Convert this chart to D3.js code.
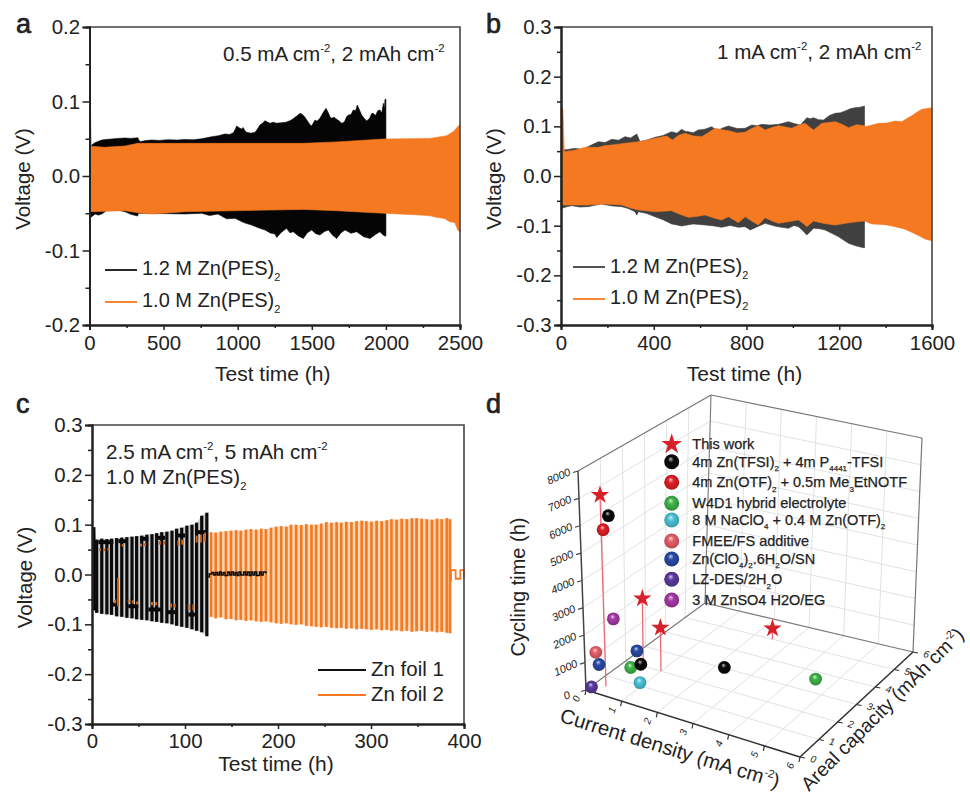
<!DOCTYPE html>
<html>
<head>
<meta charset="utf-8">
<style>
  body { margin: 0; background: #fff; }
  text { font-family: "Liberation Sans", Arial, sans-serif; fill: #222; }
</style>
<script src="https://cdn.jsdelivr.net/npm/d3@7"></script>
</head>
<body>
<script>
// panel a envelopes, [time h, voltage V]
var a12Up = [[2,.041],[15,.0416],[37,.0447],[60,.0465],[82,.0483],[110,.049],[150,.0497],[190,.0505],[240,.051],[280,.0505],[325,.0514],[341,.046],[380,.0475],[420,.0483],[470,.0478],[530,.0487],[590,.0482],[644,.049],[700,.0486],[757,.05],[790,.0512],[825,.0528],[870,.054],[914,.0564],[945,.0558],[970,.058],[983,.0625],[993,.067],[1005,.0655],[1015,.064],[1026,.0632],[1037,.065],[1048,.061],[1060,.0586],[1090,.0575],[1117,.0586],[1130,.062],[1150,.0685],[1165,.0705],[1184,.0742],[1200,.0725],[1218,.0707],[1240,.0722],[1262,.0708],[1297,.0716],[1325,.0722],[1353,.0743],[1370,.0762],[1387,.0787],[1405,.0815],[1420,.0841],[1437,.0825],[1454,.0787],[1470,.074],[1485,.0695],[1499,.0671],[1510,.071],[1522,.0752],[1535,.0735],[1555,.0774],[1570,.083],[1584,.0875],[1596,.0908],[1610,.0855],[1622,.08],[1634,.0774],[1650,.079],[1668,.0761],[1685,.0738],[1702,.0707],[1720,.0725],[1735,.0795],[1747,.0819],[1765,.0825],[1780,.0886],[1795,.0875],[1807,.0953],[1822,.0885],[1836,.0819],[1853,.0775],[1870,.0738],[1890,.0775],[1903,.0835],[1915,.0841],[1930,.0812],[1945,.0875],[1960,.0886],[1972,.0845],[1983,.0975],[1990,.0905],[1994,.103],[2000,.103]];
var a12Low = [[2,-.056],[15,-.0546],[37,-.0511],[60,-.0525],[82,-.0511],[115,-.0465],[150,-.0436],[190,-.0455],[240,-.048],[280,-.0515],[325,-.0537],[330,-.05],[644,-.0509],[757,-.05],[810,-.053],[867,-.0511],[925,-.0575],[982,-.0568],[1040,-.0625],[1094,-.0658],[1140,-.0695],[1184,-.0725],[1220,-.0765],[1252,-.0779],[1263,-.0825],[1295,-.0755],[1330,-.0703],[1352,-.0762],[1375,-.0748],[1410,-.0805],[1443,-.0838],[1470,-.0762],[1499,-.0725],[1527,-.0775],[1555,-.0792],[1585,-.0745],[1612,-.0725],[1640,-.0795],[1668,-.0838],[1696,-.0765],[1724,-.0725],[1765,-.0768],[1803,-.0748],[1850,-.0815],[1893,-.0838],[1930,-.0785],[1960,-.0748],[1980,-.079],[1994,-.0806],[2000,-.0806]];
var a10Up = [[0,.108],[6,.1],[12,.04],[100,.0385],[240,.0403],[325,.0438],[1218,.0438],[1443,.0438],[1668,.0458],[1983,.0496],[2297,.0505],[2410,.0541],[2455,.0596],[2495,.0685],[2500,.07]];
var a10Low = [[0,-.048],[240,-.0466],[325,-.0493],[420,-.0511],[644,-.048],[1218,-.0457],[1443,-.0448],[1668,-.0466],[1983,-.05],[2230,-.0523],[2300,-.0535],[2340,-.0555],[2395,-.057],[2430,-.0613],[2465,-.0625],[2485,-.0725],[2500,-.075]];

// panel b envelopes
var b12Up = [[0,.05],[3,.0523],[30,.0535],[60,.0557],[85,.054],[103,.0557],[135,.0632],[161,.0691],[190,.0672],[219,.0738],[248,.0722],[276,.0792],[300,.0765],[327,.0845],[341,.0691],[372,.0725],[405,.0778],[440,.0815],[477,.0893],[500,.0862],[520,.0939],[535,.09],[549,.0893],[570,.0872],[592,.0926],[620,.0942],[650,.0993],[665,.094],[679,.0926],[700,.0972],[722,.1006],[760,.0955],[794,.096],[823,.1027],[845,.1012],[866,.104],[900,.1025],[938,.104],[960,.1065],[981,.1094],[1005,.1058],[1031,.1027],[1045,.109],[1060,.1174],[1075,.1152],[1089,.1174],[1110,.1135],[1132,.1127],[1158,.122],[1182,.1262],[1205,.1272],[1225,.1309],[1248,.1355],[1268,.1375],[1290,.1385],[1309,.1409]];
var b12Low = [[0,-.068],[3,-.0651],[25,-.062],[46,-.0597],[80,-.0625],[118,-.0617],[145,-.059],[175,-.0564],[220,-.0602],[262,-.0617],[290,-.0655],[319,-.0718],[327,-.0785],[334,-.0718],[370,-.0755],[405,-.0819],[440,-.088],[477,-.0966],[500,-.0985],[520,-.1007],[570,-.0965],[621,-.0986],[660,-.1005],[693,-.1033],[730,-.0995],[765,-.1033],[794,-.102],[816,-.1087],[845,-.1025],[880,-.0953],[930,-.1018],[981,-.1053],[1005,-.0995],[1024,-.102],[1042,-.1095],[1060,-.1188],[1075,-.112],[1089,-.1053],[1115,-.1062],[1139,-.1087],[1170,-.116],[1197,-.1221],[1220,-.1295],[1240,-.1355],[1270,-.1405],[1304,-.1443],[1309,-.1443]];
var b10Up = [[0,.138],[8,.135],[14,.049],[60,.052],[103,.0577],[161,.0577],[190,.0612],[219,.0624],[276,.0658],[334,.0691],[370,.072],[405,.0758],[456,.0805],[480,.0725],[508,.082],[535,.0859],[571,.0805],[607,.0792],[635,.0872],[664,.096],[690,.0935],[722,.0912],[760,.0865],[794,.0879],[822,.0955],[851,.1013],[880,.0926],[910,.0975],[938,.1013],[995,.096],[1025,.1025],[1053,.106],[1072,.0985],[1089,.0926],[1107,.0992],[1125,.106],[1182,.1094],[1212,.104],[1240,.0973],[1275,.1032],[1309,.1013],[1314,.0993],[1369,.106],[1405,.1065],[1441,.1107],[1470,.1094],[1490,.1155],[1513,.1214],[1535,.1285],[1556,.1342],[1580,.136],[1599,.1375]];
var b10Low = [[0,-.0584],[118,-.0584],[190,-.0564],[262,-.0584],[300,-.0645],[334,-.0684],[370,-.07],[405,-.0718],[477,-.0698],[515,-.0775],[549,-.0832],[585,-.0815],[621,-.0785],[660,-.0845],[693,-.0886],[722,-.0819],[745,-.088],[765,-.0939],[794,-.0819],[825,-.0915],[851,-.0986],[880,-.0839],[910,-.0905],[938,-.0953],[1024,-.0886],[1045,-.0955],[1060,-.102],[1089,-.0906],[1135,-.0955],[1182,-.0986],[1254,-.0933],[1309,-.0906],[1340,-.0965],[1369,-.0973],[1405,-.0985],[1441,-.102],[1480,-.1065],[1513,-.1134],[1540,-.1195],[1570,-.1268],[1599,-.1302]];

// panel c cycling, per cycle
var c1Time = [2,5,10.5,16,21,26.5,32,37.5,43,48,53.5,59,64.5,69.5,75,80.5,86,91,96.5,102,107.5,112.5,118,123.5];
var c1Up = [.095,.07,.072,.071,.072,.073,.074,.075,.076,.077,.078,.08,.081,.083,.085,.086,.088,.092,.094,.098,.1,.104,.118,.124];
var c1Low = [-.072,-.077,-.079,-.08,-.081,-.084,-.085,-.087,-.088,-.09,-.091,-.092,-.094,-.095,-.097,-.098,-.1,-.103,-.105,-.107,-.11,-.113,-.116,-.124];
var c1Plateau = [[6.8,23,.0649],[28.3,37.3,.0669],[51.6,60.6,.0716],[69.5,78.5,.0736],[91,100,.0783],[110.7,123.3,.085],[19.3,26.5,-.0602],[39,49.8,-.0636],[60.6,75,-.0703],[80.3,89.2,-.0756],[103.5,110.7,-.0803],[1.4,5,-.0669]];
var c1TailT = [125,126,129,131,133,135,137,139,141,143,146,148,150,152,154,156,158,160,163,165,167,169,171,173,175,177,180,182,184,187];
var c1TailV = [-.005,.001,.004,-.001,.004,-.001,.005,-.001,.004,-.002,.005,-.001,.005,-.001,.004,-.002,.005,-.001,.005,-.001,.005,-.002,.005,-.001,.005,-.002,.005,-.001,.005,.002];
var c2Patch = [[8.6,.047,.052],[13,.047,.052],[17.6,.048,.053],[33,.056,.061],[52.7,.056,.062],[57,.057,.063],[73,.06,.067],[77.4,.06,.067],[92.8,.058,.068],[97,.06,.07],[112.5,.064,.078],[117,.064,.08],[121.5,.066,.084],[28,-.0636,-.0067],[25,-.058,-.05],[39.5,-.056,-.05],[44,-.058,-.052],[48.5,-.06,-.054],[64.5,-.062,-.055],[69,-.062,-.055],[85,-.066,-.058],[89,-.066,-.059],[104,-.072,-.06],[109,-.072,-.06]];
var c2Time = [128,133,138.5,144,149.5,155,160,165.5,171,176.5,182,187,192.5,198,203.5,209,214,219.5,225,230.5,236,241,246.5,252,257.5,263,268,273.5,279,284.5,290,295,300.5,306,311.5,317,322,327.5,333,338.5,344,349,354.5,360,365.5,371,376,381.5,385];
var c2Up = [.085,.084,.086,.087,.088,.089,.088,.09,.091,.09,.092,.091,.094,.096,.097,.096,.1,.1,.099,.101,.1,.1,.102,.105,.104,.105,.104,.106,.105,.107,.108,.107,.106,.108,.107,.109,.111,.11,.112,.111,.113,.113,.112,.111,.11,.112,.111,.113,.111];
var c2Low = [-.085,-.088,-.086,-.09,-.089,-.092,-.091,-.093,-.092,-.094,-.095,-.094,-.096,-.098,-.099,-.098,-.1,-.101,-.1,-.103,-.104,-.105,-.106,-.105,-.107,-.108,-.107,-.109,-.108,-.11,-.109,-.11,-.111,-.11,-.112,-.111,-.113,-.112,-.114,-.113,-.115,-.114,-.113,-.115,-.114,-.116,-.115,-.117,-.118];
var c2TailT = [385.6,386,391,396,400];
var c2TailV = [-.012,.0086,-.0085,.0086,-.0085];

// panel d
var dCurrentTicks = [0,1,2,3,4,5,6];
var dArealTicks = [0,1,2,3,4,5,6];
var dCycleTicks = [0,1000,2000,3000,4000,5000,6000,7000,8000];
var starCurrent = [0.3,0.5,1,2.5];
var starAreal = [0.47,2,2,5];
var starCycle = [7000,2500,1600,400];
var seriesLabels = [
  [["4m Zn(TFSI)"],["2","sub"],[" + 4m P"],["4441","sub"],["-TFSI"]],
  [["4m Zn(OTF)"],["2","sub"],[" + 0.5m Me"],["3","sub"],["EtNOTF"]],
  [["W4D1 hybrid electrolyte"]],
  [["8 M NaClO"],["4","sub"],[" + 0.4 M Zn(OTF)"],["2","sub"]],
  [["FMEE/FS additive"]],
  [["Zn(ClO"],["4","sub"],[")"],["2","sub"],[".6H"],["2","sub"],["O/SN"]],
  [["LZ-DES/2H"],["2","sub"],["O"]],
  [["3 M ZnSO4 H2O/EG"]]
];
var seriesColors = ["#0a0a0a","#e01f26","#3fb54a","#4cc4d8","#e8606a","#2a4aa8","#5a3aa0","#a83aa8"];
var pointSeries = [7,4,5,6,5,2,0,3,0,2,0,1];
var pointCurrent = [.55,.2,.25,.1,.9,1,1,1.25,2.8,5,.5,.4];
var pointAreal = [.5,.2,.25,.1,1,.5,1,.5,2,2.7,.5,.4];
var pointCycle = [2550,1350,900,100,1250,950,800,500,800,750,6300,5800];

var orange = "#f47920";

var svg = d3.select("body").append("svg").attr("width",970).attr("height",796);
svg.append("rect").attr("width",970).attr("height",796).attr("fill","#fff");

// text with sub and superscripts
function richText(parent, x, y, size, parts){
  var t = parent.append("text").attr("x",x).attr("y",y).attr("font-size",size+"px");
  var shift = 0;
  parts.forEach(function(p){
    var target = p[1]=="sub" ? size*.3 : p[1]=="sup" ? -size*.42 : 0;
    t.append("tspan")
      .attr("dy",target-shift)
      .attr("font-size",(p[1] ? size*.55 : size)+"px")
      .text(p[0]);
    shift = target;
  });
  return t;
}

function panelAxes(box, xMax, xTicks, xMinor, yMax, yTicks, yMinor, labelY, titleY){
  var x = d3.scaleLinear().domain([0,xMax]).range([box.left,box.right]);
  var y = d3.scaleLinear().domain([-yMax,yMax]).range([box.bottom,box.top]);
  var g = svg.append("g");
  g.append("path").attr("d","M"+box.left+","+box.top+"H"+box.right+"V"+box.bottom)
    .attr("fill","none").attr("stroke","#444").attr("stroke-width",1.6);

  g.append("g").attr("transform","translate(0,"+box.bottom+")")
    .call(d3.axisBottom(x).tickValues(xTicks).tickSize(5).tickPadding(labelY-box.bottom-19.4).tickFormat(d3.format("d")));
  g.append("g").attr("transform","translate(0,"+box.bottom+")")
    .call(d3.axisBottom(x).tickValues(xMinor).tickSize(3).tickFormat(""));
  g.append("g").attr("transform","translate("+box.left+",0)")
    .call(d3.axisLeft(y).tickValues(yTicks).tickSize(7).tickPadding(2.5).tickFormat(function(d){return d.toFixed(1)}));
  g.append("g").attr("transform","translate("+box.left+",0)")
    .call(d3.axisLeft(y).tickValues(yMinor).tickSize(4).tickFormat(""));

  g.selectAll(".domain").attr("stroke","#222").attr("stroke-width",2);
  g.selectAll(".tick line").attr("stroke","#222").attr("stroke-width",1.5);
  g.selectAll(".tick text").attr("font-size","20.4px").attr("font-family","Liberation Sans").attr("fill","#222");

  g.append("text").attr("x",(box.left+box.right)/2-2).attr("y",titleY)
    .attr("text-anchor","middle").attr("font-size","21px").text("Test time (h)");
  g.append("text").attr("transform","translate("+(box.left-60)+","+((box.top+box.bottom)/2+3)+") rotate(-90)")
    .attr("text-anchor","middle").attr("font-size","20.5px").text("Voltage (V)");
  return {x:x,y:y};
}

function envelope(g, scales, data, color){
  var area = d3.area()
    .x(function(d){return scales.x(d[0])})
    .y0(scales.y(0))
    .y1(function(d){return scales.y(d[1])});
  g.append("path").attr("d",area(data)).attr("fill",color).attr("stroke",color).attr("stroke-width",.6);
}

function legend(x1, x2, yy, color, width, textX, textY, parts, size){
  svg.append("line").attr("x1",x1).attr("x2",x2).attr("y1",yy).attr("y2",yy)
    .attr("stroke",color).attr("stroke-width",width);
  richText(svg, textX, textY, size, parts);
}

function panelLetter(x,y,s){
  svg.append("text").attr("x",x).attr("y",y).attr("font-size","27px").attr("stroke","#222").attr("stroke-width",.7).text(s);
}

// ---------- a
var boxA = {left:89.5,right:460,top:27,bottom:325};
var marksA = svg.append("g");
var sa = panelAxes(boxA,2500,[0,500,1000,1500,2000,2500],[250,750,1250,1750,2250],.2,[-.2,-.1,0,.1,.2],[-.15,-.05,.05,.15],350,381);
envelope(marksA,sa,a12Up,"#050505");
envelope(marksA,sa,a12Low,"#050505");
envelope(marksA,sa,a10Up,orange);
envelope(marksA,sa,a10Low,orange);
legend(105,137,270,"#111",1.8,142,275,[["1.2 M Zn(PES)"],["2","sub"]],20);
legend(105,137,302,orange,1.8,142,307,[["1.0 M Zn(PES)"],["2","sub"]],20);
richText(svg,223,61,20.6,[["0.5 mA cm"],["-2","sup"],[", 2 mAh cm"],["-2","sup"]]);
panelLetter(16,33,"a");

// ---------- b
var boxB = {left:561,right:932,top:27,bottom:325};
var marksB = svg.append("g");
var sb = panelAxes(boxB,1600,[0,400,800,1200,1600],[200,600,1000,1400],.3,[-.3,-.2,-.1,0,.1,.2,.3],[-.25,-.15,-.05,.05,.15,.25],350,381);
envelope(marksB,sb,b12Up,"#404040");
envelope(marksB,sb,b12Low,"#404040");
envelope(marksB,sb,b10Up,orange);
envelope(marksB,sb,b10Low,orange);
legend(573,605,267,"#404040",1.8,610,273,[["1.2 M Zn(PES)"],["2","sub"]],20);
legend(573,605,299,orange,1.8,610,304,[["1.0 M Zn(PES)"],["2","sub"]],20);
richText(svg,717,59,20.6,[["1 mA cm"],["-2","sup"],[", 2 mAh cm"],["-2","sup"]]);
panelLetter(486,33,"b");

// ---------- c
var boxC = {left:92,right:464,top:425,bottom:724};
var marksC = svg.append("g");
var sc = panelAxes(boxC,400,[0,100,200,300,400],[50,150,250,350],.3,[-.3,-.2,-.1,0,.1,.2,.3],[-.25,-.15,-.05,.05,.15,.25],748,771);

var stepLine = d3.line()
  .x(function(d){return sc.x(d[0])})
  .y(function(d){return sc.y(d[1])})
  .curve(d3.curveStepAfter);

// the blurred gaps between cycles read as a pale band
var bandArea = d3.area()
  .x(function(d){return sc.x(d)});
function band(times, up, low, color){
  marksC.append("path").attr("d",bandArea
    .y0(function(d,i){return sc.y(low[i])})
    .y1(function(d,i){return sc.y(up[i])})(times)).attr("fill",color);
}
band(c2Time,c2Up,c2Low,"#fbd8b8");
band(c1Time,c1Up,c1Low,"#cfcfcf");

// orange foil 2: one bar per cycle
marksC.selectAll("line.foil2").data(c2Time).enter().append("line").attr("class","foil2")
  .attr("x1",function(d){return sc.x(d)}).attr("x2",function(d){return sc.x(d)})
  .attr("y1",function(d,i){return sc.y(c2Up[i])}).attr("y2",function(d,i){return sc.y(c2Low[i])})
  .attr("stroke",orange).attr("stroke-width",2.7);
marksC.append("path").attr("d",stepLine(c2TailT.map(function(t,i){return [t,c2TailV[i]]})))
  .attr("fill","none").attr("stroke",orange).attr("stroke-width",1.8);

// black foil 1 bars
marksC.selectAll("line.foil1").data(c1Time).enter().append("line").attr("class","foil1")
  .attr("x1",function(d){return sc.x(d)}).attr("x2",function(d){return sc.x(d)})
  .attr("y1",function(d,i){return sc.y(c1Up[i])}).attr("y2",function(d,i){return sc.y(c1Low[i])})
  .attr("stroke","#0a0a0a").attr("stroke-width",3.2);
marksC.selectAll("line.plateau").data(c1Plateau).enter().append("line").attr("class","plateau")
  .attr("x1",function(d){return sc.x(d[0])}).attr("x2",function(d){return sc.x(d[1])})
  .attr("y1",function(d){return sc.y(d[2])}).attr("y2",function(d){return sc.y(d[2])})
  .attr("stroke","#0a0a0a").attr("stroke-width",4);
marksC.append("path").attr("d",stepLine(c1TailT.map(function(t,i){return [t,c1TailV[i]]})))
  .attr("fill","none").attr("stroke","#0a0a0a").attr("stroke-width",1.5);
marksC.selectAll("line.patch").data(c2Patch).enter().append("line").attr("class","patch")
  .attr("x1",function(d){return sc.x(d[0])}).attr("x2",function(d){return sc.x(d[0])})
  .attr("y1",function(d){return sc.y(d[1])}).attr("y2",function(d){return sc.y(d[2])})
  .attr("stroke","#c8681c").attr("stroke-width",2);

richText(svg,106,459,20.6,[["2.5 mA cm"],["-2","sup"],[", 5 mAh cm"],["-2","sup"]]);
richText(svg,106,484,20.3,[["1.0 M Zn(PES)"],["2","sub"]]);
legend(318,366,670,"#111",1.8,371,676,[["Zn foil 1"]],20.5);
legend(318,366,695,orange,1.8,371,701,[["Zn foil 2"]],20.5);
panelLetter(16,413,"c");

// ---------- d
var scaleU = d3.scaleLinear().domain([0,6]).range([0,1]);
var scaleV = d3.scaleLinear().domain([0,6]).range([0,1]);
var scaleW = d3.scaleLinear().domain([0,8000]).range([0,1]);
var floorC = {a:[586,690],b:[800,757],c:[913,652],d:[705,603]};
var roofC = {a:[578,471],b:[793,525],c:[922,438],d:[711,395]};
function project(cur, are, cyc){
  var u=scaleU(cur), v=scaleV(are), w=scaleW(cyc);
  function bil(c,k){ return c.a[k]*(1-u)*(1-v)+c.b[k]*u*(1-v)+c.c[k]*u*v+c.d[k]*(1-u)*v; }
  return [bil(floorC,0)*(1-w)+bil(roofC,0)*w, bil(floorC,1)*(1-w)+bil(roofC,1)*w];
}
var gd = svg.append("g");
var lineD = d3.line();
function seg(p,q,color,width){
  gd.append("path").attr("d",lineD([p,q])).attr("stroke",color).attr("stroke-width",width).attr("fill","none");
}
var defs = svg.append("defs");
seriesColors.forEach(function(c,i){
  var grad = defs.append("radialGradient").attr("id","ball"+i).attr("cx",.5).attr("cy",.5).attr("r",.55).attr("fx",.42).attr("fy",.3);
  grad.append("stop").attr("offset","0%").attr("stop-color",d3.interpolateRgb(c,"#fff")(.75));
  grad.append("stop").attr("offset","35%").attr("stop-color",c);
  grad.append("stop").attr("offset","100%").attr("stop-color",d3.color(c).darker(.8));
});

// grid on the floor and both walls
var gridColor = "#e2e2e2";
dCurrentTicks.slice(1,-1).forEach(function(k){
  seg(project(k,0,0),project(k,6,0),gridColor,1);
  seg(project(k,6,0),project(k,6,8000),gridColor,1);
});
dArealTicks.slice(1,-1).forEach(function(k){
  seg(project(0,k,0),project(6,k,0),gridColor,1);
  seg(project(0,k,0),project(0,k,8000),gridColor,1);
});
dCycleTicks.slice(1,-1).forEach(function(k){
  seg(project(0,0,k),project(0,6,k),gridColor,1);
  seg(project(0,6,k),project(6,6,k),gridColor,1);
});
// box edges
var edge = "#777";
seg(project(0,6,0),project(0,6,8000),edge,1.1);
seg(project(0,6,0),project(6,6,0),edge,1.1);
seg(project(0,6,0),project(0,0,0),edge,1.1);
seg(project(0,0,8000),project(0,6,8000),edge,1.2);
seg(project(0,6,8000),project(6,6,8000),edge,1.2);
seg(project(6,6,8000),project(6,6,0),edge,1.2);
// axes in front
seg(project(0,0,0),project(0,0,8000),"#444",1.5);
seg(project(0,0,0),project(6,0,0),"#333",1.6);
seg(project(6,0,0),project(6,6,0),"#333",1.6);

function tiltedLabel(p,dx,dy,angle,size,s){
  gd.append("text").attr("transform","translate("+(p[0]+dx)+","+(p[1]+dy)+") rotate("+angle+")")
    .attr("text-anchor","middle").attr("dominant-baseline","middle")
    .attr("font-size",size+"px").attr("font-style","italic").attr("fill","#333").text(s);
}
dCycleTicks.forEach(function(k){
  var p = project(0,0,k);
  seg(p,[p[0]-5,p[1]+1.5],"#444",1.2);
  tiltedLabel(p,-19,6,-24,11,k);
});
dCurrentTicks.forEach(function(k){
  var p = project(k,0,0);
  seg(p,[p[0]-1,p[1]+5],"#333",1.2);
  tiltedLabel(p,-9,9,-70,10,k);
});
dArealTicks.forEach(function(k){
  var p = project(6,k,0);
  seg(p,[p[0]+5,p[1]+1],"#333",1.2);
  tiltedLabel(p,13,3,15,10,k);
});

// drop lines
starCurrent.forEach(function(c,i){
  seg(project(c,starAreal[i],starCycle[i]),project(c,starAreal[i],0),"#ec6a74",1.3);
});

var starPath = d3.symbol().type(d3.symbolStar);
function star(p,size){
  gd.append("path").attr("d",starPath.size(size)()).attr("transform","translate("+p[0]+","+p[1]+")").attr("fill","#d8202a");
}
pointSeries.forEach(function(s,i){
  var p = project(pointCurrent[i],pointAreal[i],pointCycle[i]);
  gd.append("circle").attr("cx",p[0]).attr("cy",p[1]).attr("r",6.4).attr("fill","url(#ball"+s+")");
});
starCurrent.forEach(function(c,i){
  star(project(c,starAreal[i],starCycle[i]),105);
});

// legend of panel d
var legendY = [461.7,482.3,503.3,520,541,559,579.3,600];
star([671.7,444.3],135);
gd.append("text").attr("x",692.3).attr("y",449).attr("font-size","14.5px").attr("stroke","#222").attr("stroke-width",.25).text("This work");
seriesLabels.forEach(function(parts,i){
  gd.append("circle").attr("cx",671.7).attr("cy",legendY[i]).attr("r",7.5).attr("fill","url(#ball"+i+")");
  richText(gd,692.3,legendY[i]+5,14.5,parts).attr("stroke","#222").attr("stroke-width",.25);
});

svg.append("text").attr("transform","translate(525,587) rotate(-90)").attr("text-anchor","middle").attr("font-size","20px").text("Cycling time (h)");
richText(svg,0,0,20.3,[["Current density (mA cm"],["-2","sup"],[")"]]).attr("text-anchor","middle").attr("transform","translate(668,755) rotate(17)");
richText(svg,0,0,19.4,[["Areal capacity (mAh cm"],["-2","sup"],[")"]]).attr("text-anchor","middle").attr("transform","translate(887,714) rotate(-45)");
panelLetter(486,413,"d");
</script>
</body>
</html>
